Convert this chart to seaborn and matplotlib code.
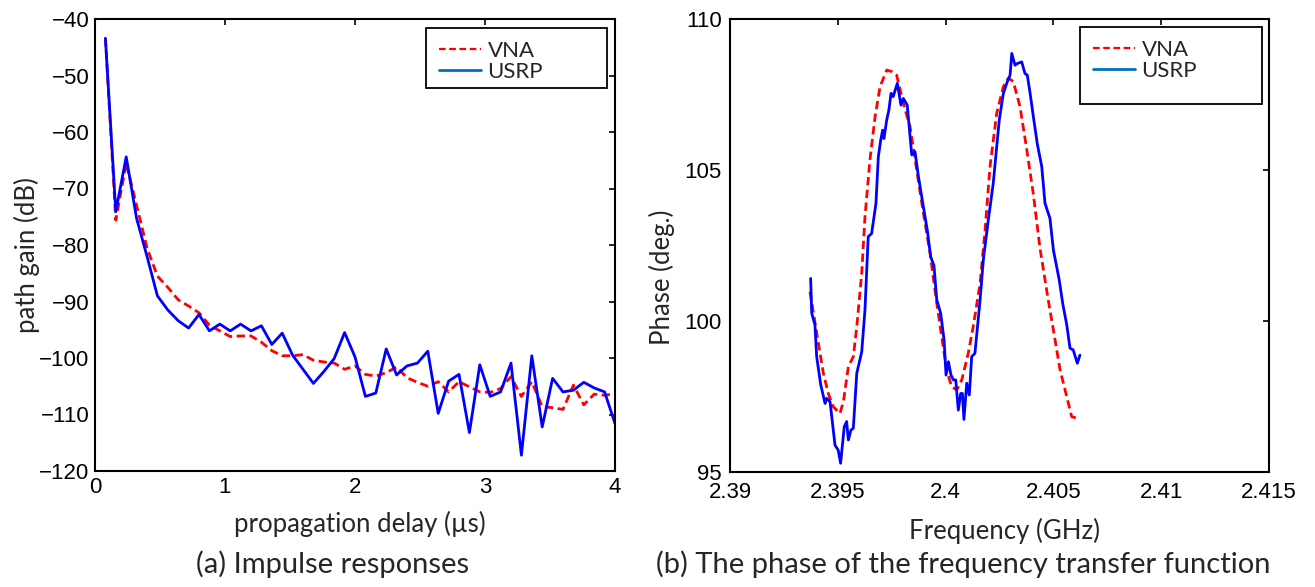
import matplotlib
matplotlib.use("Agg")
import matplotlib.pyplot as plt
from matplotlib.lines import Line2D
from matplotlib.patches import Rectangle
import numpy as np
import pandas as pd
import seaborn as sns

sns.set_theme(style="white")
plt.rcParams["font.family"] = ["Liberation Sans", "DejaVu Sans"]

# (a) impulse responses, delay in us
delay = [0.08 * k for k in range(1, 51)]
gain_vna = [-43.4, -75.6, -65.5, -73.0, -80.5, -85.5, -87.5, -89.7, -90.8, -92.0,
            -94.2, -95.2, -96.2, -96.1, -96.1, -97.2, -98.7, -99.6, -99.6, -99.4,
            -100.4, -100.7, -100.9, -102.0, -101.4, -102.9, -103.2, -102.6, -101.6, -103.5,
            -104.3, -105.0, -104.2, -106.0, -104.2, -105.1, -106.0, -106.1, -105.4, -103.3,
            -106.8, -104.2, -108.6, -108.8, -109.1, -104.8, -108.3, -106.4, -106.6, -106.3]
gain_usrp = [-43.4, -74.1, -64.4, -75.3, -82.0, -89.0, -91.5, -93.4, -94.7, -92.3,
             -95.2, -94.0, -95.2, -94.0, -95.2, -94.3, -97.6, -95.6, -99.5, -102.0,
             -104.5, -102.4, -100.1, -95.5, -99.8, -106.8, -106.2, -98.4, -103.0, -101.4,
             -100.9, -98.8, -109.8, -104.1, -102.9, -113.2, -101.2, -106.8, -106.0, -100.9,
             -117.2, -99.6, -112.2, -103.6, -106.0, -105.7, -104.3, -105.3, -106.0, -111.6]

# (b) phase of the frequency transfer function
freq_vna = [2.39371, 2.39386, 2.39410, 2.39433, 2.39456, 2.39479, 2.39510, 2.39526,
            2.39549, 2.39572, 2.39588, 2.39611, 2.39626, 2.39649, 2.39673, 2.39696,
            2.39727, 2.39750, 2.39773, 2.39804, 2.39835, 2.39866, 2.39897, 2.39928,
            2.39959, 2.39982, 2.40005, 2.40028, 2.40052, 2.40075, 2.40105, 2.40128,
            2.40160, 2.40183, 2.40206, 2.40237, 2.40268, 2.40291, 2.40314, 2.40345,
            2.40376, 2.40407, 2.40438, 2.40476, 2.40500, 2.40531, 2.40562, 2.40585,
            2.40615]
phase_vna = [100.97, 100.31, 99.26, 98.27, 97.60, 97.16, 96.94, 97.33,
             98.49, 98.82, 99.81, 101.58, 103.45, 105.33, 106.77, 107.76,
             108.31, 108.26, 108.14, 107.21, 106.44, 105.00, 103.57, 102.24,
             100.59, 99.48, 98.38, 97.82, 97.72, 98.05, 98.93, 99.81,
             101.25, 103.01, 105.11, 106.88, 107.76, 108.04, 107.93, 107.10,
             105.70, 104.20, 102.40, 100.70, 99.70, 98.38, 97.49, 96.83,
             96.77]
freq_usrp = [2.39374, 2.39379, 2.39394, 2.39402, 2.39421, 2.39441, 2.39448, 2.39464,
             2.39487, 2.39502, 2.39513, 2.39530, 2.39541, 2.39549, 2.39561, 2.39572,
             2.39588, 2.39611, 2.39626, 2.39641, 2.39657, 2.39677, 2.39688, 2.39699,
             2.39708, 2.39714, 2.39727, 2.39737, 2.39747, 2.39757, 2.39776, 2.39793,
             2.39804, 2.39822, 2.39843, 2.39858, 2.39873, 2.39897, 2.39915, 2.39931,
             2.39946, 2.39959, 2.39977, 2.39993, 2.40002, 2.40013, 2.40025, 2.40036,
             2.40047, 2.40059, 2.40070, 2.40078, 2.40085, 2.40098, 2.40110, 2.40121,
             2.40136, 2.40160, 2.40175, 2.40198, 2.40221, 2.40237, 2.40249, 2.40268,
             2.40286, 2.40299, 2.40307, 2.40322, 2.40334, 2.40353, 2.40368, 2.40379,
             2.40392, 2.40407, 2.40425, 2.40446, 2.40461, 2.40484, 2.40500, 2.40527,
             2.40543, 2.40562, 2.40577, 2.40592, 2.40611, 2.40623]
phase_usrp = [101.41, 100.26, 99.87, 98.82, 97.88, 97.27, 97.44, 97.33,
              95.89, 95.72, 95.29, 96.50, 96.67, 96.06, 96.39, 96.45,
              98.27, 98.98, 100.36, 102.79, 102.90, 103.90, 105.44, 105.99,
              106.32, 106.04, 106.66, 106.99, 107.54, 107.43, 107.87, 107.15,
              107.37, 107.15, 105.50, 105.61, 104.83, 103.78, 103.01, 102.12,
              101.84, 100.70, 100.26, 99.37, 98.21, 98.65, 98.21, 98.05,
              98.05, 97.05, 97.60, 97.60, 96.74, 97.94, 97.55, 98.82,
              98.93, 100.70, 102.02, 103.34, 104.56, 105.77, 106.66, 107.54,
              107.92, 108.14, 108.86, 108.47, 108.53, 108.58, 108.20, 108.14,
              107.54, 106.77, 105.88, 105.11, 103.90, 103.40, 102.35, 101.36,
              100.59, 99.87, 99.10, 99.04, 98.60, 98.87]

df_a = pd.DataFrame({"delay": delay, "VNA": gain_vna, "USRP": gain_usrp})
df_vna = pd.DataFrame({"f": freq_vna, "p": phase_vna})
df_usrp = pd.DataFrame({"f": freq_usrp, "p": phase_usrp})

fig = plt.figure(figsize=(13.15, 5.87), dpi=100)
ax1 = fig.add_axes([95 / 1315, 116 / 587, 520 / 1315, 452 / 587])
ax2 = fig.add_axes([730 / 1315, 115 / 587, 539 / 1315, 453 / 587])

dash = (0, (3, 1.6))
sns.lineplot(data=df_a, x="delay", y="VNA", ax=ax1, color="red", linestyle=dash, lw=2.0)
sns.lineplot(data=df_a, x="delay", y="USRP", ax=ax1, color="blue", lw=2.0)
sns.lineplot(data=df_vna, x="f", y="p", ax=ax2, color="red", linestyle=dash, lw=2.0, sort=False)
sns.lineplot(data=df_usrp, x="f", y="p", ax=ax2, color="blue", lw=2.0, sort=False)

ax1.set_xlim(0, 4)
ax1.set_ylim(-120, -40)
ax1.set_xticks([0, 1, 2, 3, 4])
ax1.set_yticks(range(-120, -39, 10))
ax2.set_xlim(2.39, 2.415)
ax2.set_ylim(95, 110)
ax2.set_xticks([2.39, 2.395, 2.4, 2.405, 2.41, 2.415])
ax2.set_xticklabels(["2.39", "2.395", "2.4", "2.405", "2.41", "2.415"])
ax2.set_yticks([95, 100, 105, 110])

label_font = dict(family=["Lato", "DejaVu Sans"], fontsize=18.5)
ax1.set_xlabel("propagation delay (µs)", **label_font)
ax1.set_ylabel("path gain (dB)", **label_font)
ax2.set_xlabel("Frequency (GHz)", **label_font)
ax2.set_ylabel("Phase (deg.)", **label_font)
ax1.xaxis.set_label_coords(0.51, -0.118)
ax1.yaxis.set_label_coords(-0.13, 0.478)
ax2.xaxis.set_label_coords(0.51, -0.13)
ax2.yaxis.set_label_coords(-0.126, 0.43)
for lab in [ax1.xaxis.label, ax2.xaxis.label, ax1.yaxis.label, ax2.yaxis.label]:
    lab.set_va("center")

for ax in [ax1, ax2]:
    ax.set_facecolor("white")
    for s in ax.spines.values():
        s.set_color("black")
        s.set_linewidth(1.5)
    ax.tick_params(direction="in", length=4, width=1.2, colors="black",
                   labelsize=16, top=True, right=True, pad=4)
    ax.grid(False)
ax2.tick_params(axis="x", pad=7)
ax2.tick_params(axis="y", pad=6)

# legends in MATLAB style boxes
handles = [Line2D([], [], color="red", linestyle=dash, lw=1.6),
           Line2D([], [], color="#0072BD", lw=2.0)]
boxes = {ax1: (426, 28, 607, 88), ax2: (1080, 27, 1262, 104)}
for ax, (x0, y0, x1, y1) in boxes.items():
    fig.add_artist(Rectangle((x0 / 1315, 1 - y1 / 587), (x1 - x0) / 1315, (y1 - y0) / 587,
                             transform=fig.transFigure, fill=False, ec="black", lw=1.3,
                             zorder=5))
    ax.legend(handles, ["VNA", "USRP"], loc="upper left", frameon=False,
              bbox_to_anchor=((x0 - 3) / 1315, 1 - (y0 - 3) / 587),
              bbox_transform=fig.transFigure, prop={"family": ["Lato", "DejaVu Sans"], "size": 16},
              handlelength=1.9, handletextpad=0.3, labelspacing=0.05, borderpad=0.2)

cap_font = dict(family=["Lato", "DejaVu Sans"], fontsize=21)
fig.text(333 / 1315, 1 - 564 / 587, "(a) Impulse responses", ha="center", va="center", **cap_font)
fig.text(963 / 1315, 1 - 564 / 587, "(b) The phase of the frequency transfer function",
         ha="center", va="center", **cap_font)

fig.savefig("out.png", dpi=100)
